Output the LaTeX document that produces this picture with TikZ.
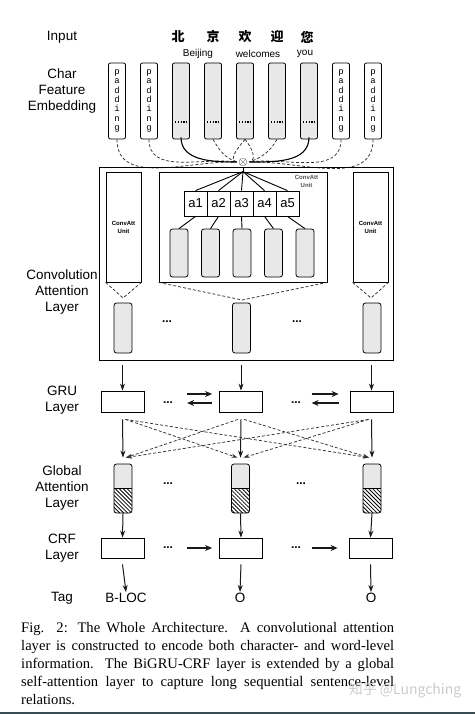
\documentclass[tikz,border=0pt]{standalone}
\usepackage{fontspec}
\setmainfont{Liberation Sans}
\setmonofont{Liberation Mono}
\newfontfamily\capfont{Liberation Serif}
\newfontfamily\cjkfont{Noto Sans CJK SC}
\usetikzlibrary{arrows.meta,patterns.meta,calc,positioning}
\definecolor{archrule}{RGB}{58,76,82}
\newcommand\archpad{p\\a\\d\\d\\i\\n\\g}
\begin{document}
\begin{tikzpicture}[x=1pt, y=-1pt,
  archlbl/.style = {font=\fontsize{13.5}{16}\selectfont, align=center, inner sep=1pt},
  archchar/.style = {font=\cjkfont\bfseries\fontsize{13}{13}\selectfont, inner sep=1pt},
  archword/.style = {font=\fontsize{10}{10}\selectfont, inner sep=1pt},
  archemb/.style = {draw, line width=0.8pt, rounded corners=2pt, minimum width=17pt,
    minimum height=76pt, inner sep=0pt, align=center,
    font=\ttfamily\fontsize{9}{9.3}\selectfont},
  archgray/.style = {fill=gray!18},
  archunit/.style = {draw, line width=0.8pt, minimum width=35pt, minimum height=110pt,
    inner sep=0pt, align=center, font=\bfseries\fontsize{6}{8}\selectfont},
  archatt/.style = {draw, line width=0.8pt, fill=white, minimum width=23pt,
    minimum height=25pt, inner sep=0pt, font=\fontsize{13}{13}\selectfont},
  archcell/.style = {draw, line width=0.8pt, rounded corners=2.5pt, fill=gray!18,
    minimum width=18pt, minimum height=48pt, inner sep=0pt},
  archga/.style = {archcell, minimum height=49pt, path picture={
      \fill[white] (path picture bounding box.west) rectangle (path picture bounding box.south east);
      \fill[pattern={Lines[angle=-45, distance=2.8pt, line width=0.8pt]}]
        (path picture bounding box.west) rectangle (path picture bounding box.south east);
      \draw[line width=0.8pt] (path picture bounding box.west) -- (path picture bounding box.east);}},
  archbox/.style = {draw, line width=0.8pt, minimum width=43pt, minimum height=21pt, inner sep=0pt},
  archline/.style = {line width=0.9pt, draw=black},
  archdash/.style = {line width=0.75pt, draw=black!80, dash pattern=on 3pt off 2pt},
  archarrow/.style = {->, >={Stealth[length=7pt, width=5pt]}, line width=1pt, draw=black!90},
  archdarrow/.style = {archdash, ->, >={Stealth[length=6pt, width=4pt]}},
  archthick/.style = {archarrow, line width=1.8pt, >={Stealth[length=7pt, width=6pt]}},
  archdots/.style = {font=\bfseries\fontsize{12}{12}\selectfont, inner sep=0pt}
]
  \useasboundingbox (0,0) rectangle (475,714);
  \fill[white] (0,0) rectangle (475,714);

  % input
  \node[archlbl] (inlbl) at (62,37) {Input};
  \foreach \c/\x/\n in {北/178/1, 京/213/2, 欢/245/3, 迎/277/4, 您/307/5}
    \node[archchar] (ch\n) at (\x,37) {\c};
  \node[archword] (w1) at (198,54) {Beijing};
  \node[archword] (w2) at (258,54) {welcomes};
  \node[archword] (w3) at (305,54) {you};

  % char feature embedding
  \node[archlbl] (emblbl) at (62,91) {Char\\Feature\\Embedding};
  \foreach \x/\i in {117/1, 149/2, 341/8, 373/9}
    \node[archemb] (e\i) at (\x,101) {\archpad};
  \foreach \x/\i in {181/3, 213/4, 245/5, 277/6, 309/7} {
    \node[archemb, archgray] (e\i) at (\x,101) {};
    \draw[line width=1.2pt, dash pattern=on 1.2pt off 1.6pt]
      ([yshift=-21pt]e\i.west) -- ([yshift=-21pt]e\i.east);
  }

  % combination
  \node[circle, fill=white, inner sep=0pt, font=\fontsize{13}{13}\selectfont] (mul) at (243,162) {$\otimes$};
  \draw[archdash] (e1.south) to[out=-90, in=178] (mul.west);
  \draw[archdash] (e2.south) to[out=-90, in=172] (mul.west);
  \draw[archdash] (e4.south) to[out=-60, in=160] (mul.west);
  \draw[archdash] (e5.south) to[out=-130, in=165] (mul.west);
  \draw[archdash] (e5.south) to[out=-50, in=15] (mul.east);
  \draw[archdash] (e6.south) to[out=-120, in=20] (mul.east);
  \draw[archdash] (e8.south) to[out=-90, in=8] (mul.east);
  \draw[archdash] (e9.south) to[out=-90, in=2] (mul.east);
  \draw[archline, line width=1.1pt] ([yshift=2pt]e3.south) to[out=-90, in=180] (mul.west);
  \draw[archline, line width=1.1pt] ([yshift=2pt]e7.south) to[out=-90, in=0] (mul.east);

  % convolution attention layer
  \node[draw, line width=0.8pt, minimum width=294pt, minimum height=193pt, inner sep=0pt] (conv) at (246,263.5) {};
  \node[archlbl] (convlbl) at (62,292) {Convolution\\Attention\\Layer};
  \node[archunit] (cl) at (123.5,227) {ConvAtt\\Unit};
  \node[archunit] (cr) at (370.5,227) {ConvAtt\\Unit};
  \node[draw, line width=0.8pt, minimum width=168pt, minimum height=110pt, inner sep=0pt] (cm) at (243,227) {};
  \node[anchor=north east, text=gray!65!black, align=center, inner sep=0pt,
    font=\bfseries\fontsize{6}{8}\selectfont] (cmlbl) at ([xshift=-9pt,yshift=-4pt]cm.north east) {ConvAtt\\Unit};
  \foreach \i in {1,...,5}
    \node[archatt] (att\i) at ({195.5+23*(\i-1)},203.5) {a\i};
  \foreach \x [count=\i] in {179, 210.5, 242, 273.5, 305}
    \node[archcell] (g\i) at (\x,253) {};
  \foreach \i in {1,...,5} {
    \draw[archline] (cm.north) -- (att\i.north);
    \draw[archline] (att\i.south) -- (g\i.north);
  }
  \draw[archline] (mul.south) -- (cm.north);

  \coordinate (fl) at (123,298);
  \coordinate (fm) at (242,300);
  \coordinate (fr) at (371,298);
  \draw[archdash] (cl.south west) -- (fl) -- (cl.south east);
  \draw[archdash] (cm.south west) -- (fm) -- (cm.south east);
  \draw[archdash] (cr.south west) -- (fr) -- (cr.south east);

  \node[archcell, minimum height=50pt] (co1) at (123,328) {};
  \node[archcell, minimum height=50pt] (co2) at (241.5,328) {};
  \node[archcell, minimum height=50pt] (co3) at (372,328) {};
  \node[archdots] (cd1) at (167,322) {...};
  \node[archdots] (cd2) at (297,322) {...};

  % GRU layer
  \node[archlbl] (grulbl) at (62,400) {GRU\\Layer};
  \node[archbox] (gru1) at (122.5,401.5) {};
  \node[archbox] (gru2) at (241,401.5) {};
  \node[archbox] (gru3) at (371.5,401.5) {};
  \foreach \i in {1,2,3}
    \draw[archarrow] ([yshift=-5pt]gru\i.north |- conv.south) -- (gru\i.north);
  \node[archdots] (gd1) at (168,403) {...};
  \node[archdots] (gd2) at (296,403) {...};
  \draw[archthick] ([xshift=-32pt,yshift=7.5pt]gru2.west) -- ([xshift=-7pt,yshift=7.5pt]gru2.west);
  \draw[archthick] ([xshift=-7pt,yshift=-1.5pt]gru2.west) -- ([xshift=-32pt,yshift=-1.5pt]gru2.west);
  \draw[archthick] ([xshift=-38pt,yshift=7.5pt]gru3.west) -- ([xshift=-11pt,yshift=7.5pt]gru3.west);
  \draw[archthick] ([xshift=-11pt,yshift=-1.5pt]gru3.west) -- ([xshift=-38pt,yshift=-1.5pt]gru3.west);

  % global attention layer
  \node[archlbl] (galbl) at (62,488) {Global\\Attention\\Layer};
  \node[archga] (ga1) at (123,488.5) {};
  \node[archga] (ga2) at (240.5,488.5) {};
  \node[archga] (ga3) at (372,488.5) {};
  \node[archdots] (ad1) at (168,484) {...};
  \node[archdots] (ad2) at (301,484) {...};
  \foreach \i in {1,2,3}
    \draw[archarrow] ([yshift=-7pt]gru\i.south) -- ([yshift=6pt]ga\i.north);
  \foreach \s/\t/\d in {1/2/3, 1/3/3, 2/1/-3, 2/3/3, 3/1/-3, 3/2/-3}
    \draw[archdarrow] ([xshift=\d pt,yshift=-7pt]gru\s.south) -- ([xshift=-\d pt,yshift=6pt]ga\t.north);

  % CRF layer
  \node[archlbl] (crflbl) at (62,548) {CRF\\Layer};
  \node[archbox, minimum height=20pt] (crf1) at (122.5,548) {};
  \node[archbox, minimum height=20pt] (crf2) at (241,548) {};
  \node[archbox, minimum height=20pt] (crf3) at (370.5,548) {};
  \foreach \i in {1,2,3}
    \draw[archarrow] (ga\i.south) -- (crf\i.north);
  \node[archdots] (rd1) at (168,548) {...};
  \node[archdots] (rd2) at (296,548) {...};
  \draw[archthick] ([xshift=-32pt]crf2.west) -- ([xshift=-7pt]crf2.west);
  \draw[archthick] ([xshift=-37pt]crf3.west) -- ([xshift=-11pt]crf3.west);

  % tags
  \node[archlbl] (taglbl) at (62,598) {Tag};
  \node[archlbl] (tag1) at (126,598) {B-LOC};
  \node[archlbl] (tag2) at (240,598) {O};
  \node[archlbl] (tag3) at (371,598) {O};
  \foreach \i in {1,2,3}
    \draw[archarrow] ([yshift=-6pt]crf\i.south) -- (tag\i.north);

  % caption
  \node[anchor=north west, text width=373pt, align=justify, inner sep=0pt,
    font=\capfont\fontsize{14.6}{18}\selectfont] (cap) at (21,622)
    {\emergencystretch=2em Fig. 2: The Whole Architecture. A convolutional attention\linebreak
     layer is constructed to encode both character- and word-level\linebreak
     information. The BiGRU-CRF layer is extended by a global\linebreak
     self-attention layer to capture long sequential sentence-level\linebreak
     relations.};
  \node[text=gray!40, inner sep=0pt, font=\cjkfont\fontsize{14}{14}\selectfont] (wm) at (405,690) {知乎 @Lungching};
  \draw[line width=2pt, draw=archrule] (0,712.5) -- (475,712.5);
\end{tikzpicture}
\end{document}
